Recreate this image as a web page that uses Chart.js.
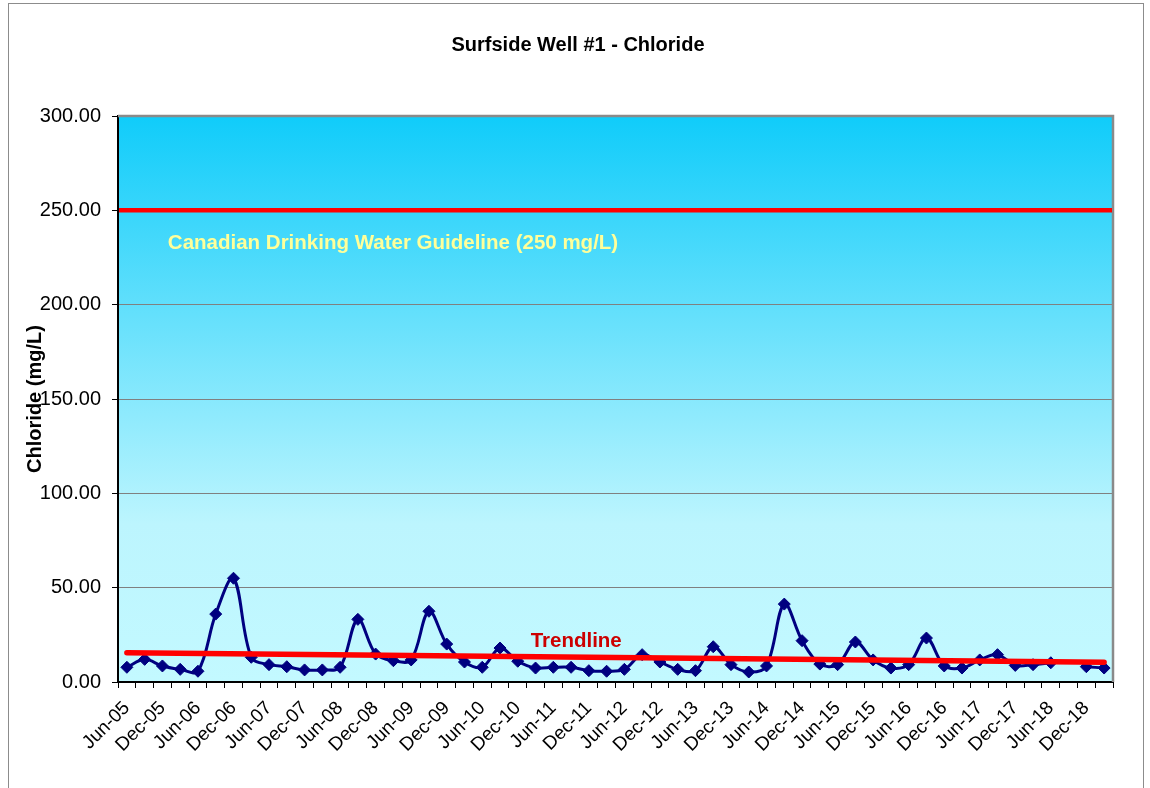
<!DOCTYPE html>
<html>
<head>
<meta charset="utf-8">
<title>Surfside Well #1 - Chloride</title>
<script src="https://cdn.jsdelivr.net/npm/chart.js@4/dist/chart.umd.min.js"></script>
<style>
  html, body { margin: 0; padding: 0; background: #ffffff; overflow: hidden; }
  #wrap { position: absolute; left: 0; top: 0; width: 1150px; height: 788px; }
</style>
</head>
<body>
<div id="wrap"><canvas id="chart" width="1150" height="788"></canvas></div>
<script>
// Quarterly sampling dates
const quarters = [
  'Jun-05','Sep-05','Dec-05','Mar-06','Jun-06','Sep-06','Dec-06','Mar-07',
  'Jun-07','Sep-07','Dec-07','Mar-08','Jun-08','Sep-08','Dec-08','Mar-09',
  'Jun-09','Sep-09','Dec-09','Mar-10','Jun-10','Sep-10','Dec-10','Mar-11',
  'Jun-11','Sep-11','Dec-11','Mar-12','Jun-12','Sep-12','Dec-12','Mar-13',
  'Jun-13','Sep-13','Dec-13','Mar-14','Jun-14','Sep-14','Dec-14','Mar-15',
  'Jun-15','Sep-15','Dec-15','Mar-16','Jun-16','Sep-16','Dec-16','Mar-17',
  'Jun-17','Sep-17','Dec-17','Mar-18','Jun-18','Sep-18','Dec-18','Mar-19'
];

// Chloride concentration, mg/L (null = no sample)
const chloride = [
  7.8, 12.0, 8.5, 6.7, 5.7, 36.0, 55.0, 13.1,
  9.2, 8.1, 6.4, 6.4, 7.8, 33.2, 14.8, 11.3,
  11.7, 37.5, 20.1, 10.6, 7.8, 18.0, 11.0, 7.4,
  7.8, 7.8, 6.0, 5.7, 6.7, 14.5, 10.6, 6.7,
  6.0, 18.7, 9.2, 5.3, 8.5, 41.3, 21.9, 9.5,
  9.2, 21.2, 11.7, 7.4, 9.2, 23.3, 8.5, 7.4,
  11.7, 14.5, 8.8, 9.2, 10.2, null, 8.1, 7.4
];

// Linear trend, value at first and last sample
const trendEnds = [15.5, 10.5];

// Drinking water guideline
const guidelineValue = 250;
const guidelineText = 'Canadian Drinking Water Guideline (250 mg/L)';

// Value axis
const yTicks = [0, 50, 100, 150, 200, 250, 300];

const chartTitle = 'Surfside Well #1 - Chloride';
const yTitle = 'Chloride (mg/L)';
const trendText = 'Trendline';

const FONT = '"Liberation Sans", Arial, Helvetica, sans-serif';

const decorPlugin = {
  id: 'decor',
  beforeDraw(chart) {
    const ctx = chart.ctx;
    const a = chart.chartArea;
    ctx.save();
    ctx.fillStyle = '#ffffff';
    ctx.fillRect(0, 0, chart.width, chart.height);
    const g = ctx.createLinearGradient(0, a.top, 0, a.bottom);
    g.addColorStop(0, '#10CCFA');
    g.addColorStop(0.72, '#BCF5FE');
    g.addColorStop(1, '#C3F9FF');
    ctx.fillStyle = g;
    ctx.fillRect(a.left, a.top, a.right - a.left, a.bottom - a.top);
    ctx.restore();
  },
  beforeDatasetsDraw(chart) {
    const ctx = chart.ctx;
    const a = chart.chartArea;
    const y = chart.scales.y;
    const gy = y.getPixelForValue(guidelineValue);
    ctx.save();
    // plot frame, top and right
    ctx.strokeStyle = '#8a8a8a';
    ctx.lineWidth = 2.5;
    ctx.beginPath();
    ctx.moveTo(a.left, a.top);
    ctx.lineTo(a.right, a.top);
    ctx.lineTo(a.right, a.bottom);
    ctx.stroke();
    // guideline
    ctx.strokeStyle = '#FF0000';
    ctx.lineWidth = 4.5;
    ctx.beginPath();
    ctx.moveTo(a.left + 1, gy);
    ctx.lineTo(a.right - 1, gy);
    ctx.stroke();
    ctx.fillStyle = '#FFFF99';
    ctx.font = 'bold 20.5px ' + FONT;
    ctx.textAlign = 'center';
    ctx.textBaseline = 'alphabetic';
    ctx.fillText(guidelineText, a.left + (a.right - a.left) * 0.2764, y.getPixelForValue(guidelineValue - 20.5));
    ctx.restore();
  },
  afterDraw(chart) {
    const ctx = chart.ctx;
    const a = chart.chartArea;
    const y = chart.scales.y;
    ctx.save();
    ctx.fillStyle = '#CC0000';
    ctx.font = 'bold 20.5px ' + FONT;
    ctx.textAlign = 'center';
    ctx.textBaseline = 'alphabetic';
    ctx.fillText(trendText, a.left + (a.right - a.left) * 0.4605, y.getPixelForValue(18.7));
    ctx.fillStyle = '#000000';
    ctx.font = 'bold 20px ' + FONT;
    ctx.fillText(chartTitle, 578, 51);
    // outer chart frame
    ctx.strokeStyle = '#8c8c8c';
    ctx.lineWidth = 1;
    ctx.strokeRect(8.5, 3.5, 1135, 800);
    ctx.restore();
  }
};

new Chart(document.getElementById('chart'), {
  type: 'line',
  data: {
    labels: quarters,
    datasets: [
      {
        label: trendText,
        data: [
          { x: quarters[0], y: trendEnds[0] },
          { x: quarters[quarters.length - 1], y: trendEnds[1] }
        ],
        borderColor: '#FF0000',
        borderWidth: 5.5,
        borderCapStyle: 'round',
        pointRadius: 0,
        tension: 0,
        order: 0
      },
      {
        label: 'Chloride',
        data: chloride,
        borderColor: '#000080',
        backgroundColor: '#000080',
        borderWidth: 3,
        pointStyle: 'rectRot',
        pointRadius: 6,
        pointBorderWidth: 1,
        pointBackgroundColor: '#000080',
        pointBorderColor: '#000080',
        tension: 0.35,
        spanGaps: false,
        order: 1
      }
    ]
  },
  options: {
    responsive: false,
    animation: false,
    devicePixelRatio: 1,
    layout: { padding: { top: 116, right: 37, left: 0, bottom: 0 } },
    plugins: {
      legend: { display: false },
      title: { display: false },
      tooltip: { enabled: false }
    },
    scales: {
      x: {
        type: 'category',
        offset: true,
        afterFit(s) { s.height = 106; },
        grid: {
          offset: true,
          drawOnChartArea: false,
          drawTicks: true,
          tickLength: 6,
          tickColor: '#000000',
          tickWidth: 1
        },
        border: { display: true, color: '#000000', width: 2 },
        ticks: {
          autoSkip: false,
          maxRotation: 45,
          minRotation: 45,
          padding: 9,
          color: '#000000',
          font: { family: FONT, size: 19 },
          callback(value, index) { return index % 2 === 0 ? quarters[index] : ''; }
        }
      },
      y: {
        min: yTicks[0],
        max: yTicks[yTicks.length - 1],
        afterFit(s) { s.width = 118; },
        afterBuildTicks(s) { s.ticks = yTicks.map(v => ({ value: v })); },
        grid: {
          color: '#808080',
          lineWidth: 1,
          drawTicks: true,
          tickLength: 6,
          tickColor: '#000000'
        },
        border: { display: true, color: '#000000', width: 2 },
        title: {
          display: true,
          text: yTitle,
          color: '#000000',
          font: { family: FONT, size: 20, weight: 'bold' },
          padding: { top: 23, bottom: 0 }
        },
        ticks: {
          padding: 11,
          color: '#000000',
          font: { family: FONT, size: 20 },
          callback(value) { return Number(value).toFixed(2); }
        }
      }
    }
  },
  plugins: [decorPlugin]
});
</script>
</body>
</html>
